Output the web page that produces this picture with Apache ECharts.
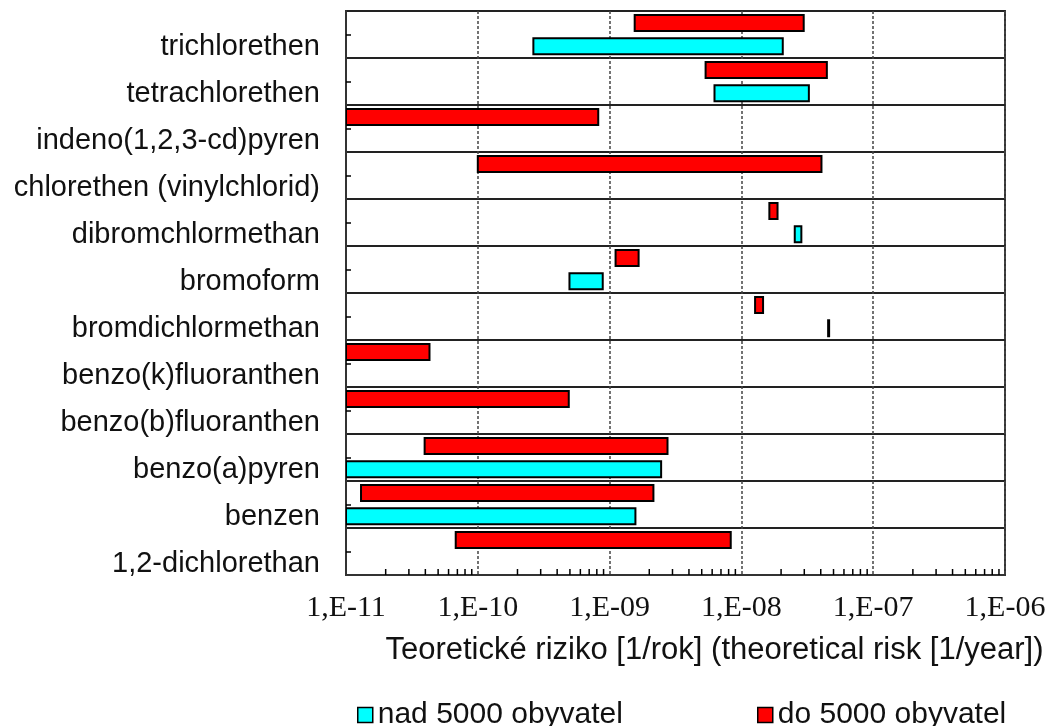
<!DOCTYPE html>
<html>
<head>
<meta charset="utf-8">
<script src="https://cdn.jsdelivr.net/npm/echarts@6/dist/echarts.min.js"></script>
<style>
  html, body { margin: 0; padding: 0; background: #fff; }
  #chart { width: 1054px; height: 726px; }
</style>
</head>
<body>
<div id="chart"></div>
<script>
// Substances, listed from the bottom row to the top row
const categories = [
  '1,2-dichlorethan',
  'benzen',
  'benzo(a)pyren',
  'benzo(b)fluoranthen',
  'benzo(k)fluoranthen',
  'bromdichlormethan',
  'bromoform',
  'dibromchlormethan',
  'chlorethen (vinylchlorid)',
  'indeno(1,2,3-cd)pyren',
  'tetrachlorethen',
  'trichlorethen'
];

// Risk range for municipalities up to 5000 inhabitants (min, max) [1/year]
const smallLow  = [6.8e-11, 1.3e-11, 3.95e-11, 1e-11, 1e-11, 1.27e-8, 1.11e-9, 1.63e-8, 1.0e-10, 1e-11, 5.35e-9, 1.55e-9];
const smallHigh = [8.3e-9, 2.15e-9, 2.75e-9, 4.9e-10, 4.3e-11, 1.46e-8, 1.66e-9, 1.88e-8, 4.05e-8, 8.2e-10, 4.45e-8, 2.97e-8];

// Risk range for municipalities above 5000 inhabitants (null = no data)
const largeLow  = [null, 1e-11, 1e-11, null, null, 4.55e-8, 4.96e-10, 2.54e-8, null, null, 6.25e-9, 2.64e-10];
const largeHigh = [null, 1.57e-9, 2.46e-9, null, null, 4.57e-8, 8.87e-10, 2.85e-8, null, null, 3.25e-8, 2.06e-8];

// Axis range and minor tick positions on the logarithmic axis
const axisMin = 1e-11;
const axisMax = 1e-6;
const minorDecades = [1e-11, 1e-10, 1e-9, 1e-8, 1e-7];
const minorMultipliers = [2, 3, 4, 5, 6, 7, 8, 9];

const seriesNames = ['nad 5000 obyvatel', 'do 5000 obyvatel'];
const axisTitle = 'Teoretické riziko [1/rok] (theoretical risk [1/year])';

function rangeData(low, high) {
  const out = [];
  for (let i = 0; i < categories.length; i++) {
    if (low[i] != null && high[i] != null) out.push([i, low[i], high[i]]);
  }
  return out;
}

const minorTickData = [];
minorDecades.forEach(function (d) {
  minorMultipliers.forEach(function (m) { minorTickData.push([m * d, 0]); });
});

// Floating bar drawn between the low and high value, shifted within its row
function barRenderer(shift) {
  return function (params, api) {
    const cat = api.value(0);
    const a = api.coord([api.value(1), cat]);
    const b = api.coord([api.value(2), cat]);
    const band = params.coordSys.height / categories.length;
    const h = band * 0.34;
    const cy = a[1] + shift * band;
    return {
      type: 'rect',
      shape: { x: a[0], y: cy - h / 2, width: Math.max(b[0] - a[0], 1), height: h },
      style: { fill: api.visual('color'), stroke: '#000', lineWidth: 2 }
    };
  };
}

function minorTickRenderer(params, api) {
  const p = api.coord([api.value(0), 0]);
  const bottom = params.coordSys.y + params.coordSys.height;
  return {
    type: 'line',
    shape: { x1: p[0], y1: bottom, x2: p[0], y2: bottom - 6 },
    style: { stroke: '#000', lineWidth: 1.5 }
  };
}

function expLabel(v) {
  const e = Math.round(Math.log10(v));
  return '1,E' + (e < 0 ? '-' : '+') + String(Math.abs(e)).padStart(2, '0');
}

const legendText = { fontFamily: 'Liberation Sans', fontSize: 30, color: '#111' };

const chart = echarts.init(document.getElementById('chart'), null, { renderer: 'canvas' });

chart.setOption({
  animation: false,
  backgroundColor: '#ffffff',
  grid: {
    left: 346, right: 49, top: 11, bottom: 151,
    show: true, borderColor: '#333', borderWidth: 2, backgroundColor: 'transparent'
  },
  xAxis: {
    type: 'log',
    logBase: 10,
    min: axisMin,
    max: axisMax,
    name: axisTitle,
    nameLocation: 'middle',
    nameGap: 60,
    nameTextStyle: {
      fontFamily: 'Liberation Sans', fontSize: 31, color: '#111',
      padding: [0, 0, 0, 78]
    },
    axisLine: { show: true, lineStyle: { color: '#333', width: 2 } },
    axisTick: { show: false },
    minorTick: { show: false },
    axisLabel: {
      formatter: expLabel,
      fontFamily: 'Liberation Serif', fontSize: 30, color: '#111', margin: 18
    },
    splitLine: { show: true, lineStyle: { color: '#444', width: 1.5, type: [3, 2] } }
  },
  yAxis: {
    type: 'category',
    data: categories,
    axisLine: { show: true, lineStyle: { color: '#333', width: 2 } },
    axisTick: { show: true, inside: true, alignWithLabel: true, length: 5, lineStyle: { color: '#000', width: 1.5 } },
    axisLabel: {
      fontFamily: 'Liberation Sans', fontSize: 29, color: '#111', margin: 26,
      verticalAlign: 'top', lineHeight: 24
    },
    splitLine: { show: true, lineStyle: { color: '#222', width: 1.8 } }
  },
  legend: [
    {
      data: [seriesNames[0]], left: 357, top: 700, padding: 0,
      icon: 'rect', itemWidth: 15, itemHeight: 15, itemGap: 0,
      itemStyle: { borderColor: '#000', borderWidth: 1.5 },
      textStyle: legendText
    },
    {
      data: [seriesNames[1]], left: 757, top: 700, padding: 0,
      icon: 'rect', itemWidth: 15, itemHeight: 15, itemGap: 0,
      itemStyle: { borderColor: '#000', borderWidth: 1.5 },
      textStyle: legendText
    }
  ],
  series: [
    {
      name: seriesNames[0],
      type: 'custom',
      renderItem: barRenderer(0.25),
      itemStyle: { color: '#00FFFF', borderColor: '#000', borderWidth: 1.5 },
      encode: { x: [1, 2], y: 0 },
      clip: true,
      data: rangeData(largeLow, largeHigh),
      z: 3
    },
    {
      name: seriesNames[1],
      type: 'custom',
      renderItem: barRenderer(-0.245),
      itemStyle: { color: '#FF0000', borderColor: '#000', borderWidth: 1.5 },
      encode: { x: [1, 2], y: 0 },
      clip: true,
      data: rangeData(smallLow, smallHigh),
      z: 3
    },
    {
      name: 'minorTicks',
      type: 'custom',
      renderItem: minorTickRenderer,
      encode: { x: 0, y: 1 },
      silent: true,
      data: minorTickData,
      z: 4
    }
  ]
});
</script>
</body>
</html>
